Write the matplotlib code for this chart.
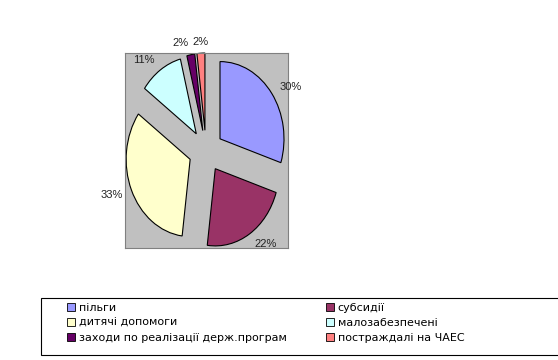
import matplotlib.pyplot as plt
import matplotlib.patches as mpatches

plt.rcParams['font.family'] = ['Liberation Sans', 'DejaVu Sans']

# ── Data ──────────────────────────────────────────────────────────────────────
categories = [
    "пільги",
    "субсидії",
    "дитячі допомоги",
    "малозабезпечені",
    "заходи по реалізації держ.програм",
    "постраждалі на ЧАЕС",
]
shares = [30, 22, 33, 11, 2, 2]
colors = ["#9999FF", "#993366", "#FFFFCC", "#CCFFFF", "#660066", "#FF8080"]

W, H = 558, 360
fig = plt.figure(figsize=(W / 100, H / 100), dpi=100)
ax = fig.add_axes([125 / W, 1 - 248 / H, 163 / W, 195 / H])

wedges, texts = ax.pie(
    shares,
    colors=colors,
    labels=[f"{v}%" for v in shares],
    labeldistance=1.15,
    startangle=90,
    counterclock=False,
    explode=[0.27] * len(shares),
    wedgeprops=dict(edgecolor="black", linewidth=0.8),
    textprops=dict(fontsize=8, color="#222222"),
    frame=True,
)
texts[-1].set_ha("center")

ax.set_aspect("auto")
ax.set_xlim(-1.266, 1.281)
ax.set_ylim(-1.255, 1.27)
ax.set_xticks([])
ax.set_yticks([])
ax.set_facecolor("#C0C0C0")
for sp in ax.spines.values():
    sp.set_color("#808080")
    sp.set_linewidth(0.8)
for t in texts:
    t.set_clip_on(False)

# ── Legend: box + two single-column legends ───────────────────────────────────
box = mpatches.Rectangle((41 / W, 1 - 355 / H), 525 / W, 57 / H,
                         transform=fig.transFigure, facecolor="white",
                         edgecolor="black", linewidth=0.8)
fig.patches.append(box)

handles = [
    mpatches.Patch(facecolor=c, edgecolor="black", linewidth=0.6, label=n)
    for c, n in zip(colors, categories)
]
leg_kw = dict(
    loc="upper left",
    prop={"family": "DejaVu Sans", "size": 8},
    handlelength=0.7,
    handleheight=0.7,
    handletextpad=0.35,
    labelspacing=0.45,
    borderpad=0,
    borderaxespad=0,
    frameon=False,
)
for col, x0 in ((0, 67), (1, 326)):
    idx = [col, col + 2, col + 4]
    fig.legend([handles[i] for i in idx], [categories[i] for i in idx],
               bbox_to_anchor=(x0 / W, 1 - 303 / H), **leg_kw)

fig.savefig("out.png", dpi=100)
